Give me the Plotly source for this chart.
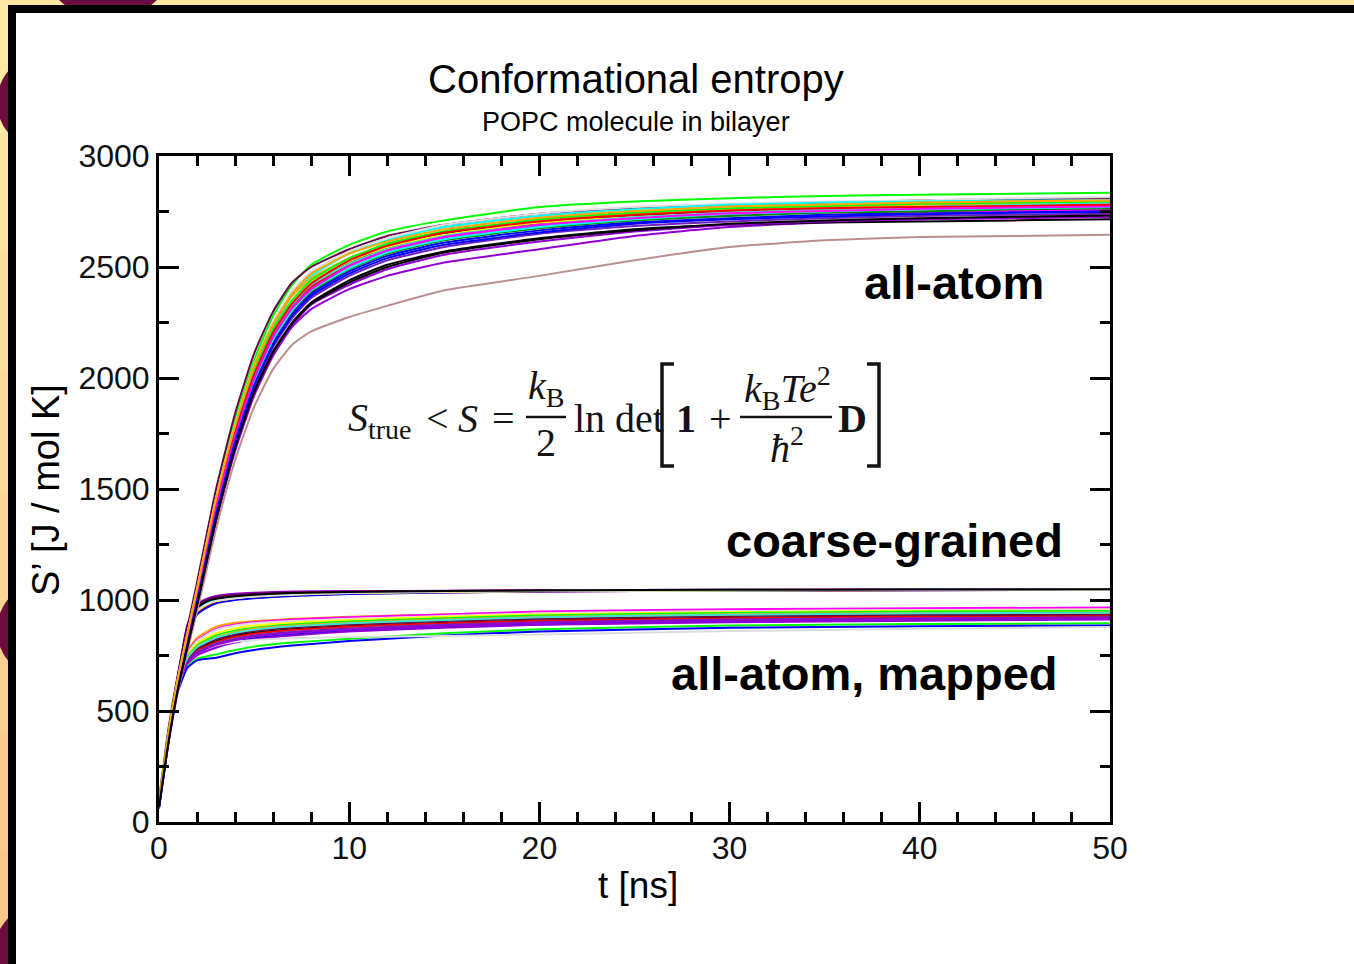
import plotly.graph_objects as go

# ---------------- data ----------------
T_AA = [0, 0.5, 1, 2, 3, 4, 5, 6, 7, 8, 10, 12, 15, 20, 25, 30, 35, 40, 45, 50]
allatom_S = [
    [90, 400, 650, 1060, 1470, 1810, 2080, 2280, 2420, 2510, 2600, 2660, 2710, 2770, 2795, 2810, 2820, 2825, 2830, 2835],
    [100, 420, 670, 1080, 1500, 1840, 2110, 2300, 2430, 2500, 2580, 2640, 2690, 2740, 2765, 2780, 2790, 2800, 2805, 2810],
    [85, 400, 650, 1050, 1460, 1790, 2060, 2250, 2390, 2480, 2570, 2630, 2690, 2740, 2770, 2785, 2795, 2800, 2810, 2815],
    [80, 390, 640, 1040, 1440, 1770, 2040, 2230, 2370, 2460, 2560, 2620, 2680, 2730, 2760, 2780, 2790, 2795, 2800, 2800],
    [85, 395, 645, 1050, 1450, 1780, 2050, 2240, 2370, 2450, 2540, 2600, 2660, 2710, 2740, 2760, 2770, 2780, 2785, 2790],
    [80, 385, 630, 1020, 1420, 1750, 2010, 2200, 2330, 2420, 2520, 2590, 2650, 2700, 2730, 2750, 2760, 2770, 2775, 2780],
    [75, 380, 625, 1010, 1410, 1740, 2000, 2190, 2320, 2410, 2510, 2580, 2640, 2695, 2720, 2740, 2755, 2765, 2770, 2775],
    [80, 385, 635, 1030, 1430, 1760, 2020, 2210, 2340, 2430, 2525, 2590, 2645, 2700, 2725, 2745, 2755, 2760, 2765, 2770],
    [70, 370, 610, 990, 1380, 1710, 1970, 2160, 2290, 2380, 2480, 2550, 2610, 2665, 2700, 2720, 2735, 2745, 2750, 2755],
    [75, 380, 620, 1000, 1400, 1730, 1990, 2180, 2310, 2400, 2500, 2570, 2630, 2685, 2715, 2735, 2745, 2750, 2755, 2760],
    [70, 365, 600, 970, 1350, 1670, 1920, 2100, 2230, 2310, 2400, 2460, 2520, 2580, 2640, 2680, 2700, 2715, 2725, 2730],
    [65, 355, 590, 950, 1320, 1630, 1870, 2040, 2150, 2210, 2275, 2325, 2395, 2460, 2530, 2590, 2620, 2635, 2640, 2645],
    [80, 385, 630, 1020, 1420, 1750, 2010, 2200, 2330, 2420, 2515, 2580, 2640, 2690, 2725, 2745, 2760, 2770, 2780, 2790],
    [75, 375, 615, 1000, 1390, 1720, 1980, 2170, 2300, 2390, 2490, 2560, 2620, 2675, 2710, 2730, 2745, 2750, 2760, 2765],
    [70, 370, 610, 985, 1370, 1700, 1955, 2140, 2270, 2360, 2460, 2530, 2590, 2650, 2685, 2705, 2720, 2730, 2735, 2740],
    [70, 365, 605, 980, 1360, 1690, 1940, 2120, 2250, 2340, 2440, 2510, 2570, 2630, 2670, 2690, 2700, 2705, 2710, 2715],
    [85, 390, 640, 1035, 1440, 1770, 2030, 2220, 2350, 2440, 2540, 2605, 2660, 2715, 2745, 2765, 2775, 2785, 2790, 2795],
    [80, 385, 630, 1025, 1425, 1755, 2015, 2205, 2335, 2425, 2530, 2595, 2655, 2705, 2735, 2755, 2765, 2770, 2775, 2780],
    [65, 360, 600, 975, 1360, 1680, 1930, 2110, 2240, 2330, 2420, 2490, 2555, 2615, 2660, 2690, 2705, 2715, 2720, 2725],
    [75, 375, 620, 1005, 1400, 1725, 1985, 2175, 2305, 2395, 2495, 2565, 2625, 2680, 2715, 2740, 2750, 2760, 2765, 2770],
    [78, 382, 628, 1015, 1410, 1735, 1995, 2185, 2315, 2400, 2505, 2575, 2635, 2690, 2720, 2742, 2752, 2762, 2768, 2772],
    [72, 372, 612, 992, 1385, 1712, 1965, 2150, 2280, 2370, 2470, 2540, 2600, 2655, 2695, 2715, 2728, 2738, 2744, 2748],
    [88, 398, 648, 1048, 1455, 1785, 2055, 2245, 2380, 2470, 2560, 2615, 2670, 2722, 2752, 2772, 2782, 2790, 2796, 2800],
    [68, 362, 602, 978, 1365, 1685, 1935, 2115, 2245, 2335, 2430, 2500, 2565, 2625, 2665, 2695, 2710, 2720, 2726, 2732],
]
allatom_colors = ["#00FF00", "#670748", "#DCDCDC", "#00FFFF", "#FFA500", "#000000", "#FF0000",
                  "#FFFF00", "#0000FF", "#FF00FF", "#9400D3", "#BC8F8F", "#40E0D0", "#008B00",
                  "#7221BC", "#000000", "#00FF00", "#FF0000", "#9400D3", "#00FFFF",
                  "#FF00FF", "#0000FF", "#FFA500", "#000000"]

T_CG = [0, 0.5, 1, 1.5, 2, 2.5, 3, 4, 5, 7, 10, 15, 20, 30, 40, 50]
cg_S = [
    [80, 390, 660, 890, 980, 1005, 1018, 1028, 1033, 1038, 1040, 1042, 1044, 1046, 1047, 1048],
    [75, 380, 640, 870, 960, 990, 1003, 1015, 1022, 1030, 1035, 1039, 1042, 1045, 1046, 1047],
    [75, 385, 645, 860, 945, 975, 992, 1005, 1013, 1022, 1030, 1036, 1040, 1043, 1045, 1046],
    [70, 375, 635, 855, 950, 982, 998, 1010, 1018, 1026, 1032, 1037, 1041, 1044, 1045, 1046],
    [80, 385, 650, 880, 970, 998, 1010, 1020, 1027, 1033, 1037, 1040, 1043, 1045, 1047, 1048],
    [75, 380, 640, 850, 940, 970, 988, 1002, 1010, 1020, 1028, 1034, 1038, 1042, 1044, 1045],
    [70, 375, 630, 845, 935, 965, 985, 1000, 1008, 1018, 1027, 1034, 1038, 1042, 1044, 1045],
    [80, 390, 655, 885, 975, 1000, 1012, 1022, 1028, 1034, 1038, 1041, 1043, 1046, 1047, 1048],
    [75, 380, 640, 865, 955, 985, 1000, 1012, 1020, 1028, 1034, 1038, 1041, 1044, 1046, 1047],
    [75, 385, 645, 858, 948, 978, 995, 1008, 1016, 1024, 1031, 1036, 1040, 1043, 1045, 1046],
    [75, 380, 640, 862, 952, 980, 996, 1008, 1016, 1025, 1032, 1037, 1040, 1044, 1045, 1046],
    [80, 385, 648, 875, 965, 993, 1006, 1017, 1024, 1031, 1036, 1040, 1043, 1046, 1047, 1048],
]
cg_colors = ["#9400D3", "#000000", "#FFA500", "#00FF00", "#FF00FF", "#FF0000",
             "#0000FF", "#670748", "#00FFFF", "#FFFF00", "#DCDCDC", "#000000"]

T_MAP = [0, 0.5, 1, 1.5, 2, 3, 4, 5, 7, 10, 15, 20, 30, 40, 50]
mapped_S = [
    [75, 385, 640, 770, 830, 880, 898, 905, 915, 925, 935, 945, 955, 960, 962],
    [80, 390, 645, 765, 820, 870, 890, 900, 912, 922, 935, 948, 958, 963, 966],
    [75, 380, 635, 760, 815, 865, 885, 895, 905, 915, 928, 940, 950, 955, 958],
    [75, 380, 630, 750, 805, 850, 872, 885, 898, 910, 925, 935, 945, 950, 952],
    [70, 375, 625, 745, 795, 840, 862, 875, 890, 903, 918, 930, 942, 948, 950],
    [70, 375, 620, 738, 785, 828, 850, 865, 880, 893, 908, 920, 932, 938, 940],
    [70, 370, 615, 730, 775, 815, 838, 852, 868, 882, 897, 908, 920, 926, 930],
    [70, 370, 615, 728, 772, 810, 833, 848, 865, 880, 895, 906, 918, 925, 928],
    [65, 365, 605, 715, 755, 790, 812, 828, 845, 862, 878, 890, 903, 910, 915],
    [65, 365, 605, 712, 750, 785, 808, 823, 840, 858, 875, 888, 900, 907, 912],
    [65, 360, 595, 700, 735, 755, 775, 790, 808, 825, 850, 868, 885, 892, 895],
    [60, 355, 590, 695, 728, 740, 760, 775, 795, 815, 840, 858, 875, 882, 885],
    [70, 370, 610, 720, 760, 795, 812, 820, 828, 833, 838, 845, 860, 870, 878],
    [70, 375, 620, 735, 782, 823, 845, 860, 876, 890, 905, 916, 928, 934, 936],
    [72, 378, 625, 742, 790, 833, 855, 870, 885, 898, 912, 924, 936, 942, 944],
    [68, 368, 610, 722, 765, 803, 825, 840, 857, 872, 888, 900, 912, 918, 922],
    [72, 377, 622, 740, 788, 830, 852, 866, 882, 895, 910, 922, 934, 940, 943],
    [66, 366, 607, 718, 760, 798, 820, 835, 852, 868, 884, 897, 908, 914, 918],
]
mapped_colors = ["#FFA500", "#FF00FF", "#DCDCDC", "#FFFF00", "#00FF00", "#00FFFF",
                 "#000000", "#FF0000", "#0000FF", "#9400D3", "#00FF00", "#0000FF",
                 "#DCDCDC", "#670748", "#FFA500", "#7221BC", "#40E0D0", "#9400D3"]

X_TICKS = [0, 10, 20, 30, 40, 50]
Y_TICKS = [0, 500, 1000, 1500, 2000, 2500, 3000]

TITLE = "Conformational entropy"
SUBTITLE = "POPC molecule in bilayer"
X_LABEL = "t [ns]"
Y_LABEL = "S’ [J / mol K]"
GROUP_LABELS = ["all-atom", "coarse-grained", "all-atom, mapped"]

# ---------------- layout geometry ----------------
W, H = 1354, 964
L, R, TOP, BOT = 159, 244, 156, 142
PW, PH = W - L - R, H - TOP - BOT


def px(x):
    return (x - L) / PW


def py(y):
    return (H - BOT - y) / PH


fig = go.Figure()

for rows, colors, T in [(mapped_S, mapped_colors, T_MAP), (cg_S, cg_colors, T_CG),
                        (allatom_S, allatom_colors, T_AA)]:
    for vals, c in zip(rows, colors):
        fig.add_trace(go.Scatter(x=T, y=vals, mode="lines",
                                 line=dict(color=c, width=2, shape="spline", smoothing=0.5),
                                 showlegend=False, hoverinfo="skip"))

shapes = []
# decorative slide background
shapes.append(dict(type="rect", xref="paper", yref="paper", x0=px(-5), x1=px(W + 5),
                   y0=py(-5), y1=py(H + 5), fillcolor="#FFE9A2", line=dict(width=0), layer="below"))
grad = ["#FFE9A2", "#FEE49E", "#FDDF9A", "#FCDA96", "#FBD592", "#FAD08E", "#F9CB8B", "#F8C688"]
for i, gc in enumerate(grad):
    shapes.append(dict(type="rect", xref="paper", yref="paper", x0=px(-5), x1=px(9),
                       y0=py(13 + i * 120), y1=py(13 + (i + 1) * 120 + 2),
                       fillcolor=gc, line=dict(width=0), layer="below"))
for cx, cy, r in [(108, -50, 70), (45, 102, 48), (45, 630, 48), (45, 955, 52)]:
    shapes.append(dict(type="circle", xref="paper", yref="paper", x0=px(cx - r), x1=px(cx + r),
                       y0=py(cy - r), y1=py(cy + r), fillcolor="#6B0E3E",
                       line=dict(width=0), layer="below"))
shapes.append(dict(type="rect", xref="paper", yref="paper", x0=px(8), x1=px(W + 10),
                   y0=py(5), y1=py(H + 10), fillcolor="#000000", line=dict(width=0), layer="below"))
shapes.append(dict(type="rect", xref="paper", yref="paper", x0=px(16), x1=px(W + 10),
                   y0=py(13), y1=py(H + 10), fillcolor="#FFFFFF", line=dict(width=0), layer="below"))

# formula: fraction bars and brackets
FCOL = "#141414"
shapes.append(dict(type="line", xref="paper", yref="paper", x0=px(526), x1=px(566),
                   y0=py(417), y1=py(417), line=dict(color=FCOL, width=2.5)))
shapes.append(dict(type="line", xref="paper", yref="paper", x0=px(740), x1=px(832),
                   y0=py(417), y1=py(417), line=dict(color=FCOL, width=2.5)))
shapes.append(dict(type="path", xref="paper", yref="paper",
                   path=f"M {px(674)} {py(364)} L {px(662)} {py(364)} L {px(662)} {py(466)} L {px(674)} {py(466)}",
                   line=dict(color=FCOL, width=3.5)))
shapes.append(dict(type="path", xref="paper", yref="paper",
                   path=f"M {px(867)} {py(364)} L {px(879)} {py(364)} L {px(879)} {py(466)} L {px(867)} {py(466)}",
                   line=dict(color=FCOL, width=3.5)))

ann = []


def text(s, x, y, size, family="Liberation Sans", xanchor="center", angle=0, color="#000000"):
    ann.append(dict(text=s, x=px(x), y=py(y), xref="paper", yref="paper", showarrow=False,
                    xanchor=xanchor, yanchor="middle", textangle=angle,
                    font=dict(family=family, size=size, color=color)))


text(TITLE, 636, 79, 40)
text(SUBTITLE, 636, 122, 27)
text(X_LABEL, 638, 885, 37)
text(Y_LABEL, 46, 490, 38, angle=-90)
text("<b>" + GROUP_LABELS[0] + "</b>", 954, 282, 47)
text("<b>" + GROUP_LABELS[1] + "</b>", 894, 540, 47)
text("<b>" + GROUP_LABELS[2] + "</b>", 864, 673, 47)

SER = "Liberation Serif"
text("<i>S</i><sub>true</sub>", 346, 420, 40, SER, xanchor="left", color=FCOL)
text("<", 437, 418, 40, SER, color=FCOL)
text("<i>S</i>", 468, 418, 40, SER, color=FCOL)
text("=", 503, 418, 40, SER, color=FCOL)
text("<i>k</i><sub>B</sub>", 546, 388, 40, SER, color=FCOL)
text("2", 546, 442, 40, SER, color=FCOL)
text("ln det", 572, 418, 40, SER, xanchor="left", color=FCOL)
text("<b>1</b>", 686, 418, 40, SER, color=FCOL)
text("+", 720, 418, 40, SER, color=FCOL)
text("<i>k</i><sub>B</sub><i>Te</i><sup>2</sup>", 787, 388, 40, SER, color=FCOL)
text("<i>ħ</i><sup>2</sup>", 787, 446, 40, SER, color=FCOL)
text("<b>D</b>", 852, 418, 40, SER, color=FCOL)

axis_common = dict(showline=True, linecolor="black", linewidth=3, mirror="ticks",
                   ticks="inside", ticklen=20, tickwidth=3, tickcolor="black",
                   showgrid=False, zeroline=False,
                   tickfont=dict(family="Liberation Sans", size=32, color="#111111"))

fig.update_layout(
    width=W, height=H, autosize=False,
    margin=dict(l=L, r=R, t=TOP, b=BOT, pad=0),
    paper_bgcolor="#FFFFFF", plot_bgcolor="rgba(0,0,0,0)",
    showlegend=False,
    shapes=shapes, annotations=ann,
    xaxis=dict(range=[0, 50], tickvals=X_TICKS, ticktext=[str(v) for v in X_TICKS],
               minor=dict(dtick=2, tick0=0, ticks="inside", ticklen=10, tickwidth=3, tickcolor="black"),
               ticklabelstandoff=-4,
               **axis_common),
    yaxis=dict(range=[0, 3000], tickvals=Y_TICKS, ticktext=[str(v) for v in Y_TICKS],
               minor=dict(dtick=250, tick0=0, ticks="inside", ticklen=10, tickwidth=3, tickcolor="black"),
               **axis_common),
)

fig.write_html("out.html", config={"displayModeBar": False},
               post_script="document.body.style.margin='0';document.body.style.overflow='hidden';")
